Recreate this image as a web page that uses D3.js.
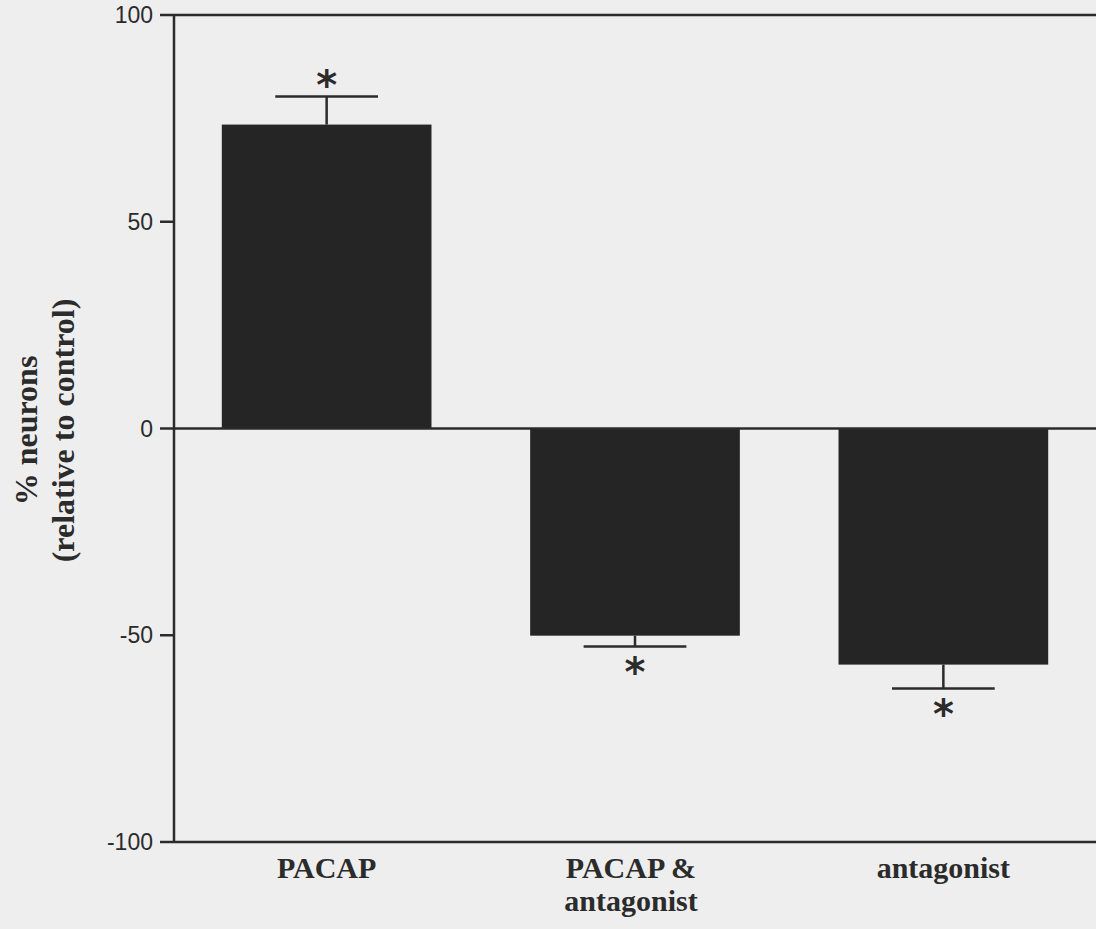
<!DOCTYPE html>
<html lang="en">
<head>
    <meta charset="UTF-8">
    <title>neurons relative to control</title>
    <script src="https://d3js.org/d3.v7.min.js"></script>
    <style>
        body {
            margin: 0;
            background: #eeeeee;
        }
        svg {
            display: block;
        }
        .bar {
            fill: #252525;
        }
        .axis-line, .err {
            stroke: #2b2b2b;
            stroke-width: 2.5;
            fill: none;
        }
        .tick-label {
            font-family: "Liberation Sans", Arial, sans-serif;
            font-size: 23px;
            fill: #2b2b2b;
        }
        .cat-label, .y-title {
            font-family: "Liberation Serif", "Times New Roman", serif;
            font-weight: bold;
            font-size: 30px;
            fill: #2b2b2b;
        }
        .y-title {
            font-size: 32px;
        }
        .star {
            font-family: "DejaVu Sans", sans-serif;
            font-weight: bold;
            font-size: 40px;
            fill: #2b2b2b;
        }
    </style>
</head>
<body>
    <div id="chart"></div>
    <script>
        // data
        const categories = ['PACAP', 'PACAP &\nantagonist', 'antagonist']
        const values = [73.5, -50.1, -57.1]
        const errors = [6.8, 2.6, 5.8]
        const yTicks = [-100, -50, 0, 50, 100]

        const WIDTH = 1096
        const HEIGHT = 929

        const svg = d3.select('#chart')
            .append('svg')
            .attr('width', WIDTH)
            .attr('height', HEIGHT)

        const x = d3.scaleBand()
            .domain(categories)
            .range([174, 1096])
            .paddingInner(0.32)
            .paddingOuter(0.155)

        const y = d3.scaleLinear()
            .domain([-100, 100])
            .range([842, 15])

        const AXIS_X = 174

        // bars
        svg.selectAll('.bar')
            .data(categories).enter()
            .append('rect').attr('class', 'bar')
            .attr('x', d => x(d))
            .attr('width', x.bandwidth())
            .attr('y', (d, i) => Math.min(y(values[i]), y(0)))
            .attr('height', (d, i) => Math.abs(y(values[i]) - y(0)))

        // error bars (one-sided, away from zero)
        const capW = x.bandwidth() * 0.49
        categories.forEach((c, i) => {
            const cx = x(c) + x.bandwidth() / 2
            const end = values[i] + Math.sign(values[i]) * errors[i]
            svg.append('line').attr('class', 'err')
                .attr('x1', cx).attr('x2', cx)
                .attr('y1', y(values[i])).attr('y2', y(end))
            svg.append('line').attr('class', 'err')
                .attr('x1', cx - capW / 2).attr('x2', cx + capW / 2)
                .attr('y1', y(end)).attr('y2', y(end))
            // significance star, centred a little beyond the whisker cap
            const target = values[i] > 0 ? y(end) - 17 : y(end) + 20
            const star = svg.append('text').attr('class', 'star')
                .attr('x', cx)
                .attr('y', target)
                .attr('text-anchor', 'middle')
                .text('*')
            const bb = star.node().getBBox()
            // glyph sits high in its box, so measure its ink centre
            star.attr('y', target + (target - (bb.y + bb.height * 0.38)))
        })

        // frame lines: top, zero, bottom, y axis
        ;[100, 0, -100].forEach(v => {
            svg.append('line').attr('class', 'axis-line')
                .attr('x1', AXIS_X).attr('x2', WIDTH)
                .attr('y1', y(v)).attr('y2', y(v))
        })
        svg.append('line').attr('class', 'axis-line')
            .attr('x1', AXIS_X).attr('x2', AXIS_X)
            .attr('y1', y(100)).attr('y2', y(-100))

        // y ticks
        const tickG = svg.selectAll('.ytick')
            .data(yTicks).enter()
            .append('g').attr('class', 'ytick')
            .attr('transform', d => `translate(${AXIS_X},${y(d)})`)
        tickG.append('line').attr('class', 'axis-line')
            .attr('x1', -14).attr('x2', 0)
        tickG.append('text').attr('class', 'tick-label')
            .attr('x', -21).attr('dy', '0.35em')
            .attr('text-anchor', 'end')
            .text(d => d)

        // category labels
        svg.selectAll('.cat-label')
            .data(categories).enter()
            .append('text').attr('class', 'cat-label')
            .attr('text-anchor', 'middle')
            .attr('x', d => x(d) + x.bandwidth() / 2 - (d.includes('\n') ? 4 : 0))
            .attr('y', 878)
            .selectAll('tspan')
            .data(d => d.split('\n')).enter()
            .append('tspan')
            .attr('x', function () { return this.parentNode.getAttribute('x') })
            .attr('dy', (d, i) => i === 0 ? 0 : 33)
            .text(d => d)

        // y title
        const yTitle = svg.append('text').attr('class', 'y-title')
            .attr('text-anchor', 'middle')
            .attr('transform', `translate(0,${y(0) + 2}) rotate(-90)`)
        yTitle.append('tspan').attr('x', 0).attr('y', 37).text('% neurons')
        yTitle.append('tspan').attr('x', 0).attr('y', 74).text('(relative to control)')
    </script>
</body>
</html>
